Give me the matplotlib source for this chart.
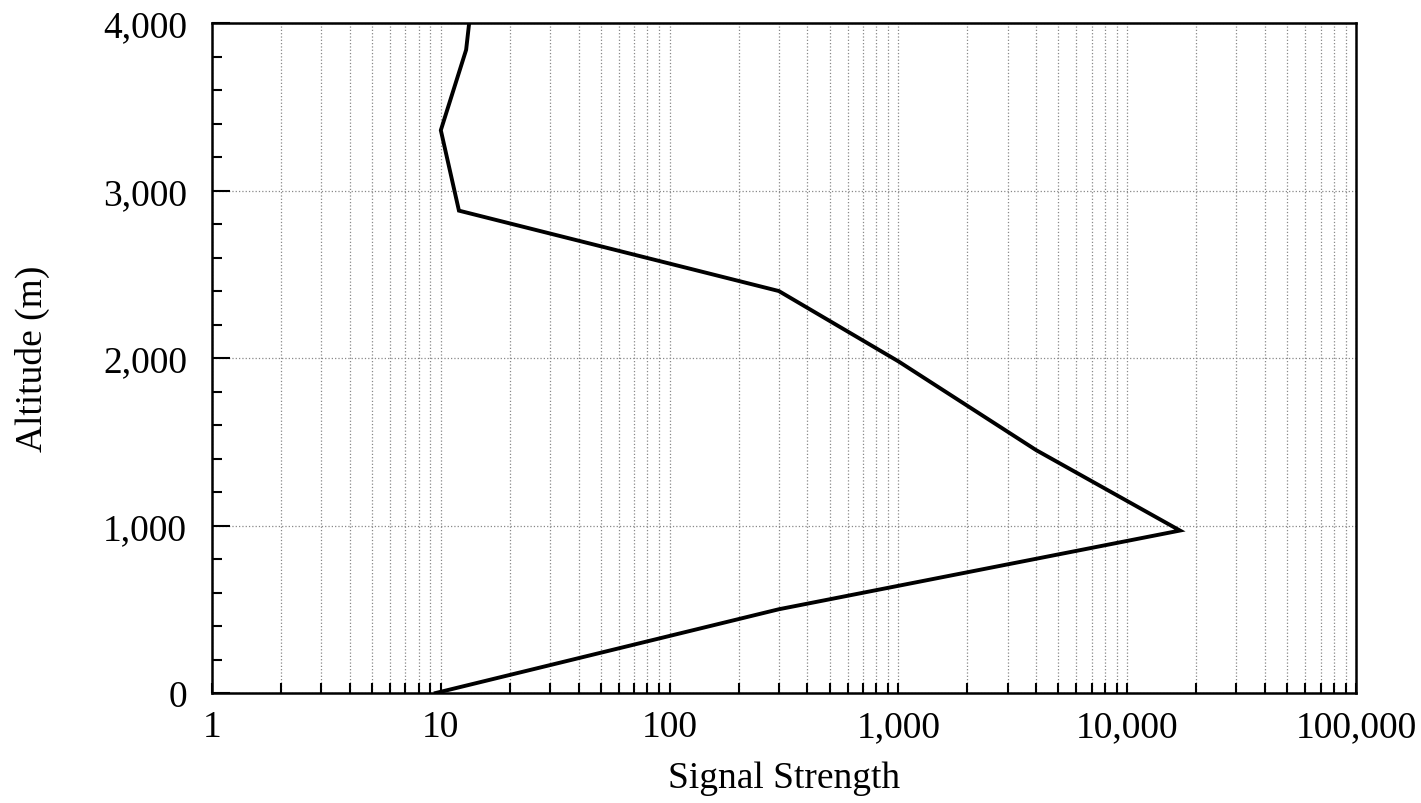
import matplotlib
matplotlib.use("Agg")
import matplotlib.pyplot as plt
from matplotlib.ticker import FuncFormatter, LogLocator, MultipleLocator, NullFormatter

# signal profile
signal = [9.5, 300, 17000, 4000, 1000, 300, 12, 10, 12.9, 13.3]
altitude = [0, 500, 970, 1450, 1980, 2400, 2880, 3360, 3840, 4000]

x_ticks = [1, 10, 100, 1000, 10000, 100000]
y_ticks = [0, 1000, 2000, 3000, 4000]

plt.rcParams['font.family'] = ['Liberation Serif', 'DejaVu Serif']

fig = plt.figure(figsize=(14.21, 8.04), dpi=100)
ax = fig.add_axes([0.1492, 0.1368, 0.8051, 0.8333])

ax.plot(signal, altitude, color='black', linewidth=2.8, solid_joinstyle='miter')

ax.set_xscale('log')
ax.set_xlim(1, 100000)
ax.set_ylim(0, 4000)

ax.set_xticks(x_ticks)
ax.xaxis.set_minor_locator(LogLocator(base=10, subs=range(2, 10)))
ax.xaxis.set_minor_formatter(NullFormatter())
ax.set_yticks(y_ticks)
ax.yaxis.set_minor_locator(MultipleLocator(200))

fmt = FuncFormatter(lambda v, pos: '{:,.0f}'.format(v))
ax.xaxis.set_major_formatter(fmt)
ax.yaxis.set_major_formatter(fmt)

ax.grid(True, which='major', axis='both', color='#888888', linestyle=':', linewidth=0.9)
ax.grid(True, which='minor', axis='x', color='#888888', linestyle=':', linewidth=0.9)

ax.tick_params(axis='x', which='both', direction='in', length=7, width=1.5,
               labelsize=27, pad=12, top=False)
ax.tick_params(axis='y', which='major', direction='in', length=13, width=1.5,
               labelsize=27, pad=18, right=False)
ax.tick_params(axis='y', which='minor', direction='in', length=7, width=1.5, right=False)

for side in ax.spines.values():
    side.set_linewidth(1.8)

ax.set_xlabel('Signal Strength', fontsize=27, labelpad=12)
ax.set_ylabel('Altitude (m)', fontsize=27, labelpad=38)

fig.savefig('out.png', dpi=100)
